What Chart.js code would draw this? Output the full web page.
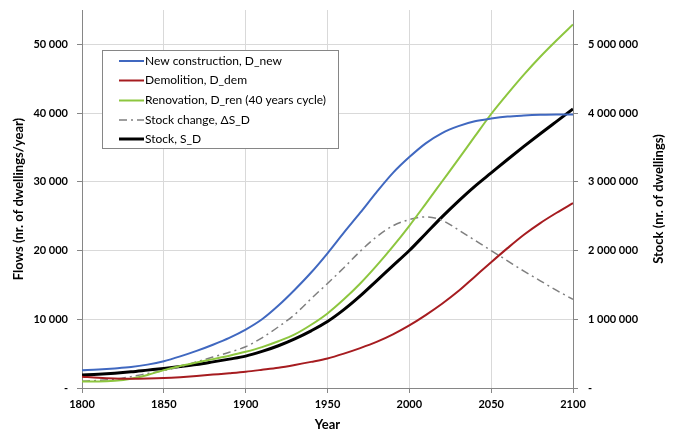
<!DOCTYPE html>
<html>
<head>
<meta charset="utf-8">
<script src="https://cdn.jsdelivr.net/npm/chart.js@4.4.1/dist/chart.umd.min.js"></script>
<style>
  html, body { margin: 0; padding: 0; background: #ffffff; }
  #wrap { width: 677px; height: 433px; position: relative; }
</style>
</head>
<body>
<div id="wrap"><canvas id="c" width="677" height="433"></canvas></div>
<script>
// ---- data ----
const years = [1800, 1810, 1820, 1830, 1840, 1850, 1860, 1870, 1880, 1890,
               1900, 1910, 1920, 1930, 1940, 1950, 1960, 1970, 1980, 1990,
               2000, 2010, 2020, 2030, 2040, 2050, 2060, 2070, 2080, 2090, 2100];

const newConstruction = [2600, 2700, 2850, 3050, 3400, 3900, 4600, 5400, 6300, 7300,
                         8500, 10000, 12000, 14300, 16800, 19600, 22600, 25500, 28500, 31300,
                         33600, 35600, 37100, 38100, 38800, 39200, 39500, 39650, 39750, 39800, 39800];

const demolition = [1650, 1500, 1400, 1350, 1380, 1450, 1580, 1750, 1950, 2150,
                    2370, 2650, 2950, 3350, 3800, 4300, 5000, 5800, 6700, 7800,
                    9100, 10600, 12250, 14100, 16200, 18300, 20350, 22300, 24000, 25500, 26900];

const renovation = [950, 950, 1050, 1350, 1900, 2600, 3200, 3700, 4200, 4700,
                    5270, 5950, 6800, 7800, 9200, 10850, 12900, 15200, 17800, 20600,
                    23600, 26800, 30050, 33300, 36600, 39870, 42800, 45600, 48200, 50600, 52900];

const stockChange = [1000, 1100, 1300, 1650, 2100, 2550, 3100, 3800, 4500, 5200,
                     6000, 7300, 8900, 10700, 13000, 15200, 17500, 19900, 22000, 23600,
                     24500, 24900, 24400, 23000, 21500, 20000, 18500, 17000, 15600, 14200, 12900];

const stock = [190000, 200000, 215000, 235000, 260000, 285000, 312000, 342000, 380000, 420000,
               464000, 532000, 615000, 715000, 832000, 967000, 1140000, 1340000, 1560000, 1780000,
               2000000, 2245000, 2490000, 2720000, 2935000, 3130000, 3325000, 3515000, 3700000, 3880000, 4060000];

const seriesNames = ['New construction, D_new', 'Demolition, D_dem', 'Renovation, D_ren (40 years cycle)',
                     'Stock change, \u0394S_D', 'Stock, S_D'];
const xTicks = [1800, 1850, 1900, 1950, 2000, 2050, 2100];
const leftTicks = [0, 10000, 20000, 30000, 40000, 50000];
const rightTicks = [0, 1000000, 2000000, 3000000, 4000000, 5000000];
const rightTitle = 'Stock (nr. of dwellings)';

// ---- helpers ----
function pts(vals) { return years.map((y, i) => ({ x: y, y: vals[i] })); }
function fmt(v) {
  if (v === 0) return '-';
  return String(v).replace(/\B(?=(\d{3})+(?!\d))/g, ' ');
}

const AXIS = '#868686';
const GRID = '#d9d9d9';
const FONT = 'Lato, "Liberation Sans", sans-serif';

const legendPlugin = {
  id: 'boxLegend',
  afterDatasetsDraw(chart) {
    const ctx = chart.ctx;
    const x0 = 102.5, y0 = 50.5, w = 236, h = 98;
    ctx.save();
    ctx.fillStyle = '#ffffff';
    ctx.fillRect(x0, y0, w, h);
    ctx.strokeStyle = AXIS;
    ctx.lineWidth = 1;
    ctx.strokeRect(x0, y0, w, h);
    const rows = [61, 80.5, 100.5, 120, 139];
    chart.data.datasets.forEach((ds, i) => {
      const y = rows[i];
      ctx.beginPath();
      ctx.setLineDash(ds.borderDash || []);
      ctx.strokeStyle = ds.borderColor;
      ctx.lineWidth = ds.borderWidth;
      ctx.moveTo(119, y);
      ctx.lineTo(144, y);
      ctx.stroke();
      ctx.setLineDash([]);
      ctx.fillStyle = '#000000';
      ctx.font = '12px ' + FONT;
      ctx.textBaseline = 'middle';
      ctx.textAlign = 'left';
      ctx.fillText(ds.label, 145, y);
    });
    ctx.restore();
  }
};

const rightTitlePlugin = {
  id: 'rightTitle',
  afterDraw(chart) {
    const ctx = chart.ctx;
    const a = chart.chartArea;
    ctx.save();
    ctx.translate(659, (a.top + a.bottom) / 2);
    ctx.rotate(-Math.PI / 2);
    ctx.font = 'bold 13px ' + FONT;
    ctx.fillStyle = '#000';
    ctx.textAlign = 'center';
    ctx.textBaseline = 'middle';
    ctx.fillText(rightTitle, 0, 0);
    ctx.restore();
  }
};

function noPad(s) { s.paddingTop = 0; s.paddingBottom = 0; }
const lineBase = { pointRadius: 0, fill: false, cubicInterpolationMode: 'monotone' };

new Chart(document.getElementById('c'), {
  type: 'line',
  data: {
    datasets: [
      Object.assign({ label: seriesNames[0], data: pts(newConstruction), borderColor: '#4068c0', borderWidth: 2, yAxisID: 'y' }, lineBase),
      Object.assign({ label: seriesNames[1], data: pts(demolition), borderColor: '#a61c20', borderWidth: 2, yAxisID: 'y' }, lineBase),
      Object.assign({ label: seriesNames[2], data: pts(renovation), borderColor: '#8dc63f', borderWidth: 2, yAxisID: 'y' }, lineBase),
      Object.assign({ label: seriesNames[3], data: pts(stockChange), borderColor: '#7f7f7f', borderWidth: 1.5, borderDash: [8, 4, 2, 4], yAxisID: 'y' }, lineBase),
      Object.assign({ label: seriesNames[4], data: pts(stock), borderColor: '#000000', borderWidth: 3, yAxisID: 'y2' }, lineBase)
    ]
  },
  options: {
    responsive: false,
    animation: false,
    events: [],
    layout: { padding: { top: 10, left: 0, right: 0, bottom: 0 } },
    plugins: { legend: { display: false }, tooltip: { enabled: false } },
    scales: {
      x: {
        type: 'linear',
        min: 1800, max: 2100,
        afterBuildTicks(s) { s.ticks = xTicks.map(v => ({ value: v })); },
        afterFit(s) { s.height = 45; s.paddingLeft = 0; s.paddingRight = 0; },
        grid: { color: GRID, tickColor: AXIS, tickLength: 5, lineWidth: 1 },
        border: { color: AXIS, width: 1 },
        ticks: { padding: 5, color: '#000', font: { family: FONT, size: 11, weight: 'bold' }, callback: v => String(v), maxRotation: 0 },
        title: { display: true, text: 'Year', color: '#000', font: { family: FONT, size: 13, weight: 'bold' }, padding: { top: 0, bottom: 0 } }
      },
      y: {
        position: 'left',
        min: 0, max: 55000,
        afterBuildTicks(s) { s.ticks = leftTicks.map(v => ({ value: v })); },
        afterFit(s) { s.width = 82; noPad(s); },
        grid: { color: GRID, tickColor: AXIS, tickLength: 5 },
        border: { color: AXIS, width: 1 },
        ticks: { padding: 9, color: '#000', font: { family: FONT, size: 11, weight: 'bold' }, callback: v => fmt(v) },
        title: { display: true, text: 'Flows (nr. of dwellings/year)', color: '#000', font: { family: FONT, size: 13, weight: 'bold' }, padding: { top: 11, bottom: 0 } }
      },
      y2: {
        position: 'right',
        min: 0, max: 5500000,
        afterBuildTicks(s) { s.ticks = rightTicks.map(v => ({ value: v })); },
        afterFit(s) { s.width = 104; noPad(s); },
        grid: { drawOnChartArea: false, tickColor: AXIS, tickLength: 5 },
        border: { color: AXIS, width: 1 },
        ticks: { padding: 10, color: '#000', font: { family: FONT, size: 11, weight: 'bold' }, callback: v => fmt(v) },
        title: { display: false }
      }
    }
  },
  plugins: [legendPlugin, rightTitlePlugin]
});
</script>
</body>
</html>
